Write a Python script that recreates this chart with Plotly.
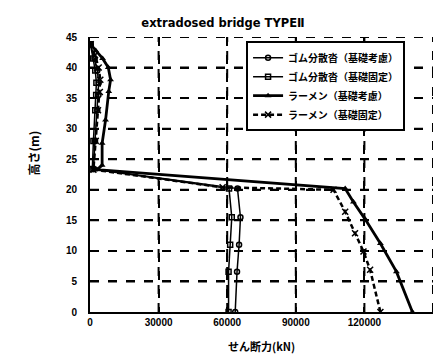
import plotly.graph_objects as go

# ---- data ----
x_tick_vals = [0, 30000, 60000, 90000, 120000, 150000]
y_tick_vals = [0, 5, 10, 15, 20, 25, 30, 35, 40, 45]

names = ["ゴム分散沓（基礎考慮）", "ゴム分散沓（基礎固定）", "ラーメン（基礎考慮）", "ラーメン（基礎固定）"]

h_rubber_soil = [0, 6.6, 11.0, 15.5, 20.2, 23.4, 28.0, 33.0, 35.5, 37.5, 39.5, 41.5, 43.8]
v_rubber_soil = [63500, 64300, 65200, 65800, 64500, 1500, 2200, 3200, 3700, 3800, 3200, 2000, 300]

h_rubber_fix = [0, 6.6, 11.0, 15.5, 20.2, 23.4, 28.0, 33.0, 35.5, 37.5, 39.5, 41.5, 43.8]
v_rubber_fix = [60600, 60600, 61300, 62000, 60800, 1000, 1500, 2300, 2700, 2800, 2300, 1400, 200]

h_rahmen_soil = [0, 6.6, 11.2, 15.2, 18.0, 20.2, 23.3, 24.0, 27.6, 31.4, 36.1, 38.0, 40.0, 41.5, 42.8, 43.8]
v_rahmen_soil = [141000, 134000, 127000, 120300, 115200, 111600, 3000, 5300, 5300, 6800, 8200, 9000, 8000, 5500, 2500, 300]

h_rahmen_fix = [0, 6.9, 9.9, 12.9, 16.4, 20.0, 20.4, 23.3, 28.0, 33.0, 36.0, 38.0, 40.0, 42.0, 43.8]
v_rahmen_fix = [127000, 122500, 119600, 115900, 111600, 106500, 58000, 1500, 2500, 3500, 4300, 4500, 3800, 2200, 300]

title_text = "extradosed bridge TYPEⅡ"
x_title = "せん断力(kN)"
y_title = "高さ(m)"

# ---- figure ----
jp = "Noto Sans CJK JP"
fig = go.Figure()

fig.add_trace(go.Scatter(x=v_rubber_soil, y=h_rubber_soil, name=names[0], mode="lines+markers",
                         line=dict(color="black", width=1.5),
                         marker=dict(symbol="circle-open", size=5, color="black", line=dict(width=1.5))))
fig.add_trace(go.Scatter(x=v_rubber_fix, y=h_rubber_fix, name=names[1], mode="lines+markers",
                         line=dict(color="black", width=1.5),
                         marker=dict(symbol="square-open", size=5, color="black", line=dict(width=1.5))))
fig.add_trace(go.Scatter(x=v_rahmen_soil, y=h_rahmen_soil, name=names[2], mode="lines+markers",
                         line=dict(color="black", width=2.8),
                         marker=dict(symbol="triangle-up", size=6, color="black")))
fig.add_trace(go.Scatter(x=v_rahmen_fix, y=h_rahmen_fix, name=names[3], mode="lines+markers",
                         line=dict(color="black", width=2.5, dash="5px,3px"),
                         marker=dict(symbol="x-thin-open", size=6, color="black", line=dict(width=1.5, color="black"))))

fig.update_layout(
    width=446, height=357,
    margin=dict(l=90, r=13, t=37, b=45),
    paper_bgcolor="white", plot_bgcolor="rgba(0,0,0,0)",
    font=dict(family=jp, color="black"),
    title=dict(text="<b>" + title_text + "</b>", x=0.5, xanchor="center", y=0.935, yanchor="middle",
               yref="container", font=dict(family="DejaVu Sans", size=11.5, color="black")),
    showlegend=True,
    legend=dict(x=0.455, y=0.985, xanchor="left", yanchor="top",
                bgcolor="white", bordercolor="black", borderwidth=2,
                font=dict(family=jp, size=10, color="black", weight="bold"),
                itemwidth=30, tracegroupgap=0),
)

fig.update_xaxes(range=[0, 150000], tickvals=x_tick_vals, ticktext=[str(v) for v in x_tick_vals],
                 showline=True, linecolor="black", linewidth=2, mirror=False,
                 showgrid=True, gridcolor="black", gridwidth=2, griddash="dash",
                 zeroline=False, ticks="", layer="above traces",
                 tickfont=dict(family="Liberation Sans", size=10, color="black", weight="bold"))
fig.update_yaxes(range=[0, 45], tickvals=y_tick_vals,
                 showline=True, linecolor="black", linewidth=2, mirror=False,
                 showgrid=True, gridcolor="black", gridwidth=2, griddash="dash",
                 zeroline=False, ticks="outside", ticklen=9, tickcolor="rgba(0,0,0,0)",
                 layer="above traces",
                 tickfont=dict(family="Liberation Sans", size=10, color="black", weight="bold"))

# dashed grid built from the tick arrays (also covers the top and right edges)
grid_line = dict(color="black", width=2, dash="dash")
for xv in x_tick_vals[1:]:
    fig.add_vline(x=xv, line=grid_line, layer="above")
for yv in y_tick_vals[1:]:
    fig.add_hline(y=yv, line=grid_line, layer="above")

fig.add_annotation(text=x_title, xref="paper", yref="paper", x=0.5, y=-0.125, yanchor="middle",
                   showarrow=False, font=dict(family=jp, size=11, color="black", weight="bold"))
fig.add_annotation(text=y_title, xref="paper", yref="paper", x=-0.165, y=0.578, xanchor="center", yanchor="middle",
                   textangle=-90, showarrow=False, font=dict(family=jp, size=12, color="black", weight="bold"))

fig.write_html("out.html")
